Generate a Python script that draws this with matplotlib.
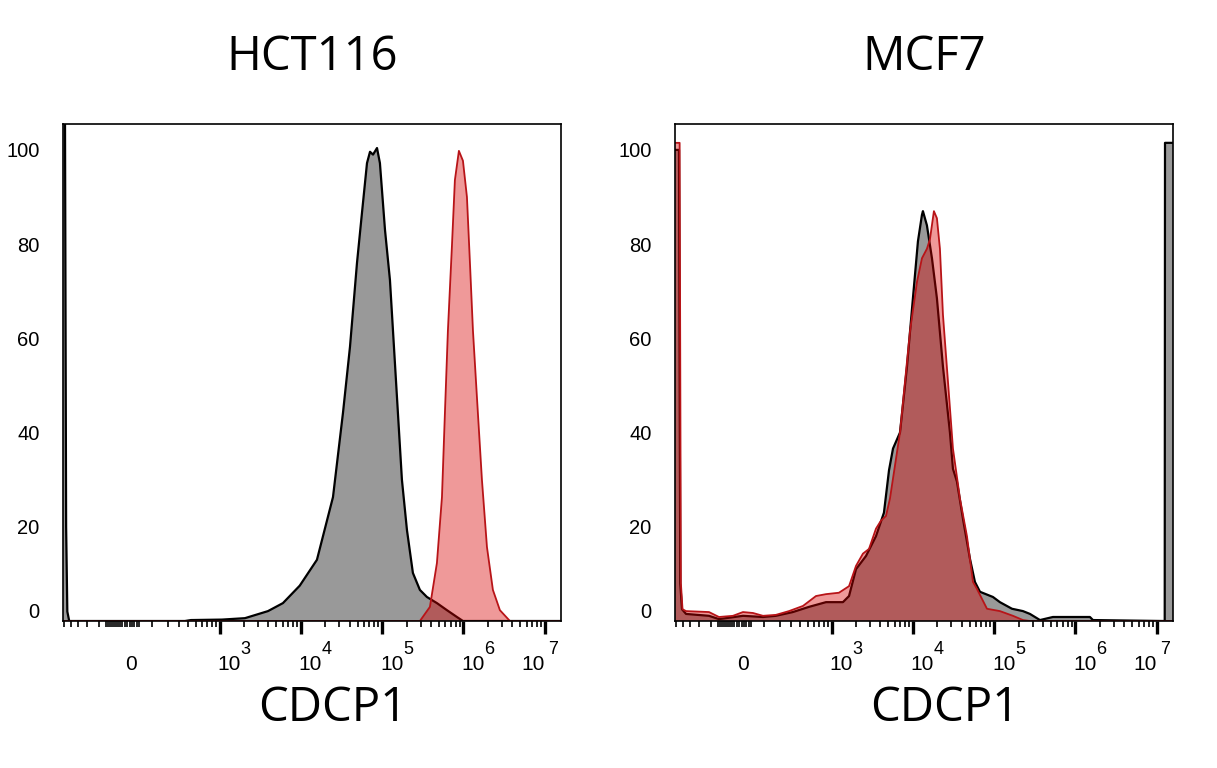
import numpy as np
import matplotlib
matplotlib.use("Agg")
import matplotlib.pyplot as plt
from matplotlib.transforms import offset_copy, blended_transform_factory, ScaledTranslation

# ---------------- data (fluorescence intensity, % of max) ----------------
titles = ["HCT116", "MCF7"]
xlabel = "CDCP1"
ytick_values = [0, 20, 40, 60, 80, 100]
decade_exponents = [3, 4, 5, 6, 7]

hct_ctrl_x = [-640, -590, -570, -550, -520, 358, 432, 1072, 2062, 3963, 6055, 9740,
              15850, 24950, 33110, 40360, 49200, 56620, 65310, 71120, 77450, 86700,
              94150, 108700, 125000, 152400, 175400, 202300, 239300, 291700, 355600,
              472100, 626600, 831800, 986000, 1.7e7]
hct_ctrl_y = [110, 110, 20, 2, 0, 0, 0.2, 0.3, 0.6, 2.1, 3.8, 7.5,
              13, 26.3, 44.2, 58.2, 76, 86.6, 97.2, 99.6, 99, 100.4,
              97.2, 83, 72.4, 47.6, 30, 19.3, 10.2, 6.6, 5.1,
              3.8, 2.3, 0.85, 0, 0]

hct_cdcp_x = [-640, 291700, 387300, 472100, 544500, 591600, 644200, 721100, 785200,
              879400, 986000, 1104000, 1202000, 1309000, 1466000, 1687000, 1945000,
              2301000, 2805000, 3724000, 1.7e7]
hct_cdcp_y = [0, 0, 3.0, 12.3, 26.3, 44, 61.6, 79.4, 93.6,
              99.8, 97.7, 90, 76, 61.6, 47.4, 30, 15.7,
              6.6, 2.3, 0, 0]

mcf_ctrl_x = [-640, -555, -535, -508, -450, -212, -142, -10.8, 92, 172, 315, 518, 852,
              1385, 1648, 2009, 2667, 3539, 4436, 5119, 5731, 6983, 8514, 10070,
              11610, 13000, 13370, 14960, 17260, 19860, 23560, 28710, 31260, 34990,
              41490, 50580, 58210, 67150, 96860, 118000, 166000, 226500, 276100,
              366500, 528400, 1507000, 1641000, 1.186e7, 1.25e7, 1.26e7, 1.7e7]
mcf_ctrl_y = [100, 100, 8, 2.5, 1.5, 1.1, 0.4, 1.1, 0.85, 1.1, 1.9, 3.0, 4.0,
              4.0, 5.3, 11, 13.8, 18, 23, 32, 36.6, 40, 54, 68.5,
              80.6, 86.2, 87, 84, 77, 68.5, 54, 40, 32.3, 29.6,
              21.7, 13.2, 8.3, 6.2, 5.1, 4.0, 2.6, 2.1, 1.5,
              0.2, 0.85, 0.85, 0.2, 0, 0, 101.5, 101.5]

mcf_cdcp_x = [-640, -545, -525, -500, -450, -212, -142, -61.7, -10.8, 38.9, 92, 172,
              276.6, 432, 636.8, 852, 1236, 1648, 2009, 2446, 2904, 3539, 4074,
              4699, 5259, 6983, 9266, 11300, 13000, 14960, 16290, 18240, 19860,
              21630, 23560, 27100, 31260, 38110, 46450, 55080, 61660, 81850,
              118000, 170600, 226500, 276100, 1.7e7]
mcf_cdcp_y = [101.5, 101.5, 8, 2.5, 2.1, 1.9, 0.85, 1.1, 1.9, 1.7, 1.1, 1.3,
              2.1, 3.2, 5.3, 5.7, 6.0, 7.4, 11.7, 14.3, 15.3, 19.6, 21.3,
              22.3, 26, 40, 61.5, 72, 77, 79, 81, 87, 85.5,
              79, 65, 51, 36.6, 26, 18, 8.3, 6.8, 2.6,
              2.1, 1.1, 0.2, 0, 0]

panels = [
    (hct_ctrl_x, hct_ctrl_y, hct_cdcp_x, hct_cdcp_y),
    (mcf_ctrl_x, mcf_ctrl_y, mcf_cdcp_x, mcf_cdcp_y),
]

# ---------------- styling ----------------
GRAY_FILL = "#999999"
RED_FILL = (0.843, 0.0, 0.0, 0.40)
RED_EDGE = "#b81418"
TICK_FONT = "Liberation Sans"
TITLE_FONT = "Open Sans"

XMIN, XMAX = -625, 1.58e7
YMIN, YMAX = 0, 105.5


def fwd(x):
    return np.arcsinh(np.asarray(x, float) / 175.0) / np.log(10)


def inv(y):
    return 175.0 * np.sinh(np.asarray(y, float) * np.log(10))


minor_ticks = [-600, -500, -400, -300, -200]
minor_ticks += list(range(-150, 40, 12))
minor_ticks += list(range(100, 1000, 100))
for e in range(3, 7):
    minor_ticks += [m * 10 ** e for m in range(2, 10)]
minor_ticks = [t for t in minor_ticks if XMIN < t < XMAX]

fig = plt.figure(figsize=(12.17, 7.68), dpi=100)
W, H = 1217, 768
ax_lefts = [63, 675]
ax_top, ax_bottom = 124, 621
ax_w = 498

for i, (cx, cy, rx, ry) in enumerate(panels):
    left = ax_lefts[i]
    ax = fig.add_axes([left / W, 1 - ax_bottom / H, ax_w / W, (ax_bottom - ax_top) / H])
    ax.set_xscale("function", functions=(fwd, inv))

    ax.fill_between(cx, cy, 0, facecolor=GRAY_FILL, edgecolor="none", zorder=1)
    ax.plot(cx, cy, color="black", lw=1.6, zorder=2, solid_joinstyle="round")
    ax.fill_between(rx, ry, 0, facecolor=RED_FILL, edgecolor="none", zorder=3)
    ax.plot(rx, ry, color=RED_EDGE, lw=1.3, zorder=4, solid_joinstyle="round")

    for sp in ax.spines.values():
        sp.set_linewidth(1.2)
        sp.set_color("black")
        sp.set_zorder(5)

    # y axis
    ax.set_yticks(ytick_values)
    ax.set_yticklabels([str(v) for v in ytick_values], fontsize=14.5, family=TICK_FONT)
    ax.tick_params(axis="y", length=0, pad=17)
    lbl0 = ax.get_yticklabels()[0]
    lbl0.set_transform(lbl0.get_transform() + ScaledTranslation(0, 0.10, fig.dpi_scale_trans))

    # x axis
    ax.set_xticks([10.0 ** e for e in decade_exponents])
    ax.set_xticks(minor_ticks, minor=True)
    ax.set_xticklabels([])
    ax.tick_params(axis="x", which="major", length=9, width=2.4, direction="out")
    ax.tick_params(axis="x", which="minor", length=4.5, width=1.2, direction="out")

    ax.set_xlim(XMIN, XMAX)
    ax.set_ylim(YMIN, YMAX)

    bt = blended_transform_factory(ax.transData, ax.transAxes)
    ax.text(0, 0, "0", transform=offset_copy(bt, fig, x=-2, y=-44, units="dots"),
            ha="center", va="center", fontsize=15, family=TICK_FONT)
    for e in decade_exponents:
        xv = 10.0 ** e
        if e < 7:
            t1 = offset_copy(bt, fig, x=-2, y=-44, units="dots")
            t2 = offset_copy(bt, fig, x=21, y=-29, units="dots")
            ax.text(xv, 0, "10", transform=t1, ha="left", va="center", fontsize=15, family=TICK_FONT)
        else:
            t1 = offset_copy(bt, fig, x=0, y=-44, units="dots")
            t2 = offset_copy(bt, fig, x=3, y=-29, units="dots")
            ax.text(xv, 0, "10", transform=t1, ha="right", va="center", fontsize=15, family=TICK_FONT)
        ax.text(xv, 0, str(e), transform=t2, ha="left", va="center", fontsize=13, family=TICK_FONT)

    cxp = left + ax_w / 2
    fig.text(cxp / W, 1 - 57 / H, titles[i], ha="center", va="center",
             fontsize=34, family=TITLE_FONT)
    fig.text((cxp + 21) / W, 1 - 708 / H, xlabel, ha="center", va="center",
             fontsize=34, family=TITLE_FONT)

fig.savefig("out.png", dpi=100)
